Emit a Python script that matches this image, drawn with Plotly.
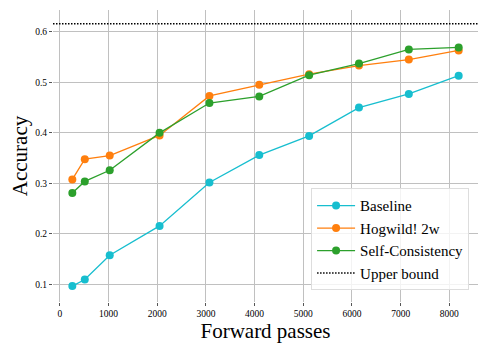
import plotly.graph_objects as go

forward_passes = [256, 512, 1024, 2048, 3072, 4096, 5120, 6144, 7168, 8192]
baseline = [0.097, 0.110, 0.158, 0.216, 0.302, 0.356, 0.394, 0.450, 0.477, 0.513]
hogwild = [0.308, 0.348, 0.355, 0.395, 0.473, 0.495, 0.516, 0.533, 0.545, 0.563]
self_consistency = [0.281, 0.304, 0.326, 0.400, 0.459, 0.472, 0.514, 0.537, 0.565, 0.569]
upper_bound = 0.616

x_ticks = [0, 1000, 2000, 3000, 4000, 5000, 6000, 7000, 8000]
y_ticks = [0.1, 0.2, 0.3, 0.4, 0.5, 0.6]

series = [
    ("Baseline", baseline, "#17becf"),
    ("Hogwild! 2w", hogwild, "#ff7f0e"),
    ("Self-Consistency", self_consistency, "#2ca02c"),
]

fig = go.Figure()
for name, vals, color in series:
    fig.add_trace(go.Scatter(
        x=forward_passes, y=vals, name=name, mode="lines+markers",
        line=dict(color=color, width=1.3),
        marker=dict(color=color, size=8),
    ))

# upper bound: horizontal dotted line across the whole axis
dots = "1.5px,1.5px"
fig.add_hline(y=upper_bound, line=dict(color="black", width=1.5, dash=dots))
fig.add_trace(go.Scatter(
    x=[None], y=[None], name="Upper bound", mode="lines",
    line=dict(color="black", width=1.5, dash=dots),
))

grid = "#c0c0c0"
# the page body adds an 8px margin, so the figure is a bit smaller than the window
fig.update_layout(
    width=480, height=341,
    margin=dict(l=45, r=10, t=2, b=47),
    plot_bgcolor="white", paper_bgcolor="white",
    font=dict(family="Liberation Serif, Times New Roman, serif", color="black"),
    showlegend=True,
    legend=dict(
        x=0.979, y=0.04, xanchor="right", yanchor="bottom",
        bordercolor="#dddddd", borderwidth=1, bgcolor="rgba(255,255,255,0.8)",
        font=dict(size=15), tracegroupgap=0, itemwidth=38,
    ),
    xaxis=dict(
        title=dict(text="Forward passes", font=dict(size=21), standoff=3),
        range=[-141, 8589], tickvals=x_ticks, tickfont=dict(size=9.5),
        showgrid=True, gridcolor=grid, gridwidth=1, zeroline=False,
        ticks="outside", ticklen=3, tickcolor="#555", showline=False,
        automargin=False,
    ),
    yaxis=dict(
        title=dict(text="Accuracy", font=dict(size=21), standoff=4),
        range=[0.0655, 0.643], tickvals=y_ticks, tickformat=".1f",
        tickfont=dict(size=9.5),
        showgrid=True, gridcolor=grid, gridwidth=1, zeroline=False,
        ticks="outside", ticklen=3, tickcolor="#555", showline=False,
        automargin=False,
    ),
)

fig.write_html("out.html")
